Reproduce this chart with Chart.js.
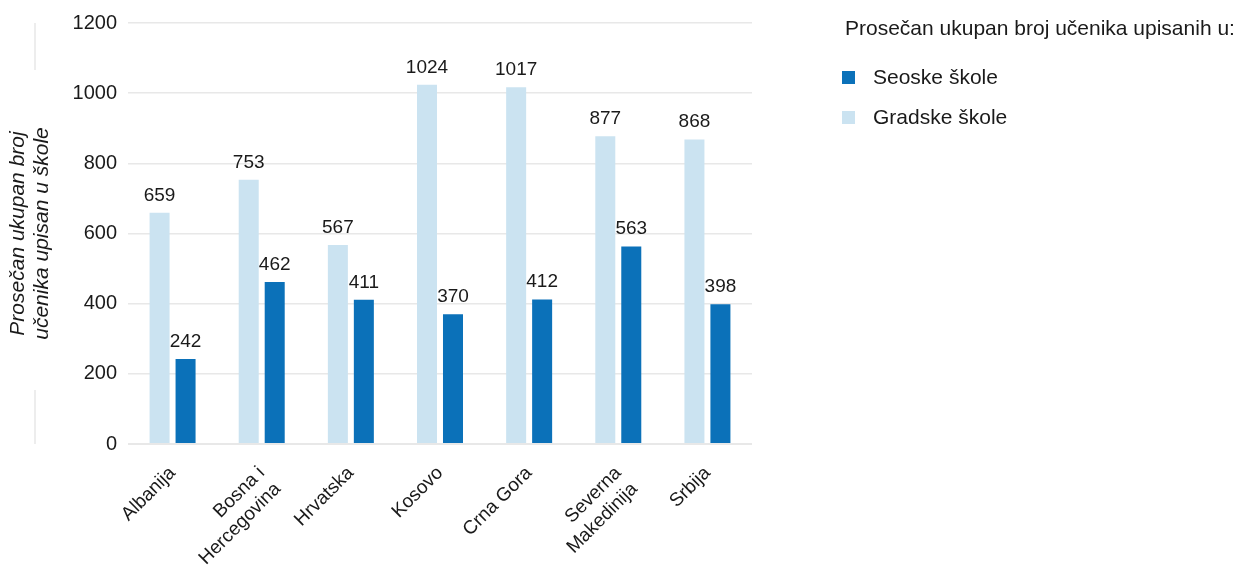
<!DOCTYPE html>
<html lang="sr">
<head>
<meta charset="utf-8">
<title>Prosečan ukupan broj učenika upisan u škole</title>
<script src="https://cdn.jsdelivr.net/npm/chart.js@4.4.1/dist/chart.umd.min.js"></script>
<style>
  html, body { margin: 0; padding: 0; background: #ffffff; }
  #wrap { position: relative; width: 1239px; height: 568px; overflow: hidden; }
  #chart { position: absolute; left: 0; top: 0; }
  #legend {
    position: absolute; left: 842px; top: 14px;
    font-family: 'Liberation Sans', Arial, sans-serif; color: #1a1a1a;
  }
  #legend .title { font-size: 21px; line-height: 28px; margin-left: 3px; white-space: nowrap; }
  #legend .items { margin-top: 15px; }
  #legend .item { display: flex; align-items: center; height: 40px; font-size: 21px; }
  #legend .box { width: 13px; height: 13px; margin-right: 18px; }
</style>
</head>
<body>
<div id="wrap">
  <canvas id="chart" width="1239" height="568"></canvas>
  <div id="legend"></div>
</div>
<script>
// Countries (multi-line where the name wraps)
const categories = [
  'Albanija',
  ['Bosna i', 'Hercegovina'],
  'Hrvatska',
  'Kosovo',
  'Crna Gora',
  ['Severna', 'Makedinija'],
  'Srbija'
];

// Average total number of enrolled pupils
const gradskeSkole = [659, 753, 567, 1024, 1017, 877, 868];
const seoskeSkole  = [242, 462, 411, 370, 412, 563, 398];

const yTicks = [0, 200, 400, 600, 800, 1000, 1200];

const legendTitle = 'Prosečan ukupan broj učenika upisanih u:';
const yTitle = ['Prosečan ukupan broj', 'učenika upisan u škole'];

const COLOR_GRAD = '#cbe3f1';
const COLOR_SELO = '#0b71b9';
const FONT = "'Liberation Sans', Arial, sans-serif";
const GRID = '#e8e8e8';

// Value labels above each bar
const valueLabels = {
  id: 'valueLabels',
  afterDatasetsDraw(chart) {
    const ctx = chart.ctx;
    ctx.save();
    ctx.font = '19px ' + FONT;
    ctx.fillStyle = '#1a1a1a';
    ctx.textAlign = 'center';
    ctx.textBaseline = 'alphabetic';
    chart.data.datasets.forEach((ds, i) => {
      chart.getDatasetMeta(i).data.forEach((bar, j) => {
        ctx.fillText(String(ds.data[j]), bar.x, bar.y - 12);
      });
    });
    ctx.restore();
  }
};

// Thin vertical rule beside the axis title
const titleRule = {
  id: 'titleRule',
  beforeDraw(chart) {
    const { ctx, chartArea } = chart;
    ctx.save();
    ctx.strokeStyle = GRID;
    ctx.lineWidth = 1.5;
    ctx.beginPath();
    ctx.moveTo(35, chartArea.top);
    ctx.lineTo(35, chartArea.top + 47);
    ctx.moveTo(35, chartArea.bottom - 54);
    ctx.lineTo(35, chartArea.bottom);
    ctx.stroke();
    ctx.restore();
  }
};

const chart = new Chart(document.getElementById('chart'), {
  type: 'bar',
  data: {
    labels: categories,
    datasets: [
      { label: 'Gradske škole', data: gradskeSkole, backgroundColor: COLOR_GRAD,
        categoryPercentage: 0.583, barPercentage: 0.77 },
      { label: 'Seoske škole', data: seoskeSkole, backgroundColor: COLOR_SELO,
        categoryPercentage: 0.583, barPercentage: 0.77 }
    ]
  },
  options: {
    responsive: false,
    animation: false,
    layout: { padding: { top: 22, right: 487, bottom: 0, left: 0 } },
    plugins: {
      legend: { display: false },
      tooltip: { enabled: false }
    },
    scales: {
      x: {
        grid: { display: false },
        border: { display: false },
        ticks: {
          color: '#1a1a1a',
          font: { family: FONT, size: 19 },
          minRotation: 45, maxRotation: 45,
          autoSkip: false,
          padding: 10
        },
        afterFit(scale) { scale.height = 124; }
      },
      y: {
        min: 0, max: 1200,
        afterBuildTicks(scale) { scale.ticks = yTicks.map(v => ({ value: v })); },
        grid: {
          color: GRID,
          lineWidth: c => (c.tick && c.tick.value === 0 ? 2 : 1.5),
          drawTicks: false
        },
        border: { display: false },
        ticks: {
          color: '#1a1a1a',
          font: { family: FONT, size: 20 },
          padding: 11,
          callback: v => String(v)
        },
        title: {
          display: true,
          text: yTitle,
          color: '#1a1a1a',
          font: { family: FONT, size: 21, style: 'italic', lineHeight: 1.15 },
          padding: { top: 6, bottom: 0 }
        },
        afterFit(scale) { scale.width = 128; }
      }
    }
  },
  plugins: [valueLabels, titleRule]
});

// Legend beside the plot, rural series listed first
(function buildLegend() {
  const el = document.getElementById('legend');
  const t = document.createElement('div');
  t.className = 'title';
  t.textContent = legendTitle;
  el.appendChild(t);
  const items = document.createElement('div');
  items.className = 'items';
  chart.data.datasets.slice().reverse().forEach(ds => {
    const row = document.createElement('div');
    row.className = 'item';
    const box = document.createElement('span');
    box.className = 'box';
    box.style.background = ds.backgroundColor;
    const txt = document.createElement('span');
    txt.textContent = ds.label;
    row.appendChild(box);
    row.appendChild(txt);
    items.appendChild(row);
  });
  el.appendChild(items);
})();
</script>
</body>
</html>
